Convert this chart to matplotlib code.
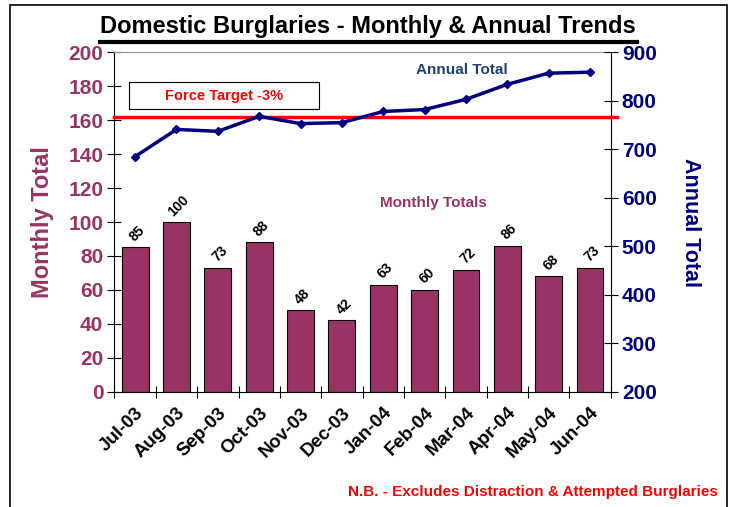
import numpy as np
import matplotlib.pyplot as plt
from matplotlib.patches import Rectangle

plt.rcParams['font.family'] = ['Liberation Sans', 'DejaVu Sans']

months = ["Jul-03", "Aug-03", "Sep-03", "Oct-03", "Nov-03", "Dec-03",
          "Jan-04", "Feb-04", "Mar-04", "Apr-04", "May-04", "Jun-04"]
monthly = [85, 100, 73, 88, 48, 42, 63, 60, 72, 86, 68, 73]
annual = [685, 741, 737, 768, 753, 755, 778, 782, 803, 834, 857, 859]
target = 162  # Force Target -3% (monthly scale)

plum = "#993366"
navy = "#000080"

fig = plt.figure(figsize=(7.31, 5.07), dpi=100)
ax = fig.add_axes([0.1566, 0.2274, 0.6788, 0.6694])
x = np.arange(len(months))

ax.bar(x, monthly, width=0.65, color=plum, edgecolor="black", linewidth=0.8, zorder=2)
for xi, v in zip(x, monthly):
    ax.text(xi + 0.05, v + 2, str(v), ha="center", va="bottom", fontsize=10,
            fontweight="bold", rotation=45, color="black")

ax.set_xlim(-0.5, len(months) - 0.5)
ax.set_ylim(0, 200)
ax.set_yticks(range(0, 201, 20))
ax.tick_params(axis="y", labelcolor=plum, labelsize=15, direction="inout",
               length=10, width=0.8, color="black", pad=3)
for lab in ax.get_yticklabels():
    lab.set_fontweight("bold")
ax.set_ylabel("Monthly Total", color=plum, fontsize=17, fontweight="bold", labelpad=10)

ax.set_xticks(x)
ax.set_xticklabels(months, rotation=45, ha="right", rotation_mode="anchor",
                   fontsize=13.5, fontweight="bold")
ax.tick_params(axis="x", which="major", length=0, pad=9)
ax.set_xticks(np.arange(-0.5, len(months), 1), minor=True)
ax.tick_params(axis="x", which="minor", direction="inout", length=9, width=0.8)

ax.spines["top"].set_color("#909090")
ax.spines["top"].set_linewidth(0.8)
ax.spines["right"].set_visible(False)

ax.axhline(target, color="#FF0000", linewidth=2.5, zorder=3, xmax=1.012, clip_on=False)

ax2 = ax.twinx()
ax2.plot(x, annual, color=navy, linewidth=2.5, marker="D", markersize=4, zorder=4)
ax2.set_ylim(200, 900)
ax2.set_yticks(range(200, 901, 100))
ax2.tick_params(axis="y", labelcolor=navy, labelsize=15, direction="inout",
                length=10, width=0.8, color="black", pad=3)
for lab in ax2.get_yticklabels():
    lab.set_fontweight("bold")
ax2.set_ylabel("Annual Total", color=navy, fontsize=15.5, fontweight="bold",
               rotation=270, labelpad=32)
for s in ["left", "top", "bottom"]:
    ax2.spines[s].set_visible(False)

fig.text(462 / 731, 1 - 70 / 507, "Annual Total", color="#1F3F7A", fontsize=11,
         fontweight="bold", ha="center", va="center")
fig.text(433 / 731, 1 - 203 / 507, "Monthly Totals", color=plum, fontsize=11,
         fontweight="bold", ha="center", va="center")

fig.patches.append(Rectangle((129 / 731, 1 - 109 / 507), 190 / 731, 27 / 507,
                             transform=fig.transFigure, facecolor="white",
                             edgecolor="black", linewidth=0.8, zorder=5))
fig.text(224 / 731, 1 - 96 / 507, "Force Target -3%", color="#FF0000", fontsize=10.5,
         fontweight="bold", ha="center", va="center", zorder=6)

fig.text(368 / 731, 1 - 27 / 507, "Domestic Burglaries - Monthly & Annual Trends",
         fontsize=17, fontweight="bold", ha="center", va="center")
fig.add_artist(plt.Line2D([100 / 731, 637 / 731], [1 - 42 / 507, 1 - 42 / 507],
                          transform=fig.transFigure, color="black", linewidth=3))

fig.text(718 / 731, 1 - 492 / 507, "N.B. - Excludes Distraction & Attempted Burglaries",
         color="#FF0000", fontsize=11, fontweight="bold", ha="right", va="center")

fig.patches.append(Rectangle((10 / 731, -0.01), 717 / 731, 1 - 5 / 507 + 0.01,
                             transform=fig.transFigure, facecolor="none",
                             edgecolor="black", linewidth=1.2))

fig.savefig("out.png", dpi=100)
